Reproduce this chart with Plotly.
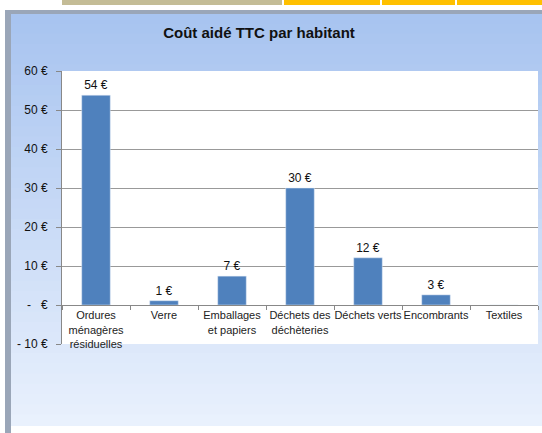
import plotly.graph_objects as go

# données
categories = ["Ordures<br>ménagères<br>résiduelles", "Verre", "Emballages<br>et papiers",
              "Déchets des<br>déchèteries", "Déchets verts", "Encombrants", "Textiles"]
valeurs = [53.8, 1.1, 7.4, 30.0, 12.1, 2.6, 0]
etiquettes = ["54 €", "1 €", "7 €", "30 €", "12 €", "3 €", ""]
y_ticks = [-10, 0, 10, 20, 30, 40, 50, 60]
y_labels = ["- 10 €", "-   €", "10 €", "20 €", "30 €", "40 €", "50 €", "60 €"]

W, H = 542, 433
L, R, T, B = 62, 4, 71, 89
pw, ph = W - L - R, H - T - B


def px(x):
    return (x - L) / pw


def py(y):
    return (H - B - y) / ph


fig = go.Figure()
fig.add_trace(go.Bar(
    x=categories, y=valeurs, text=etiquettes, textposition="outside",
    marker_color="#4F81BD", width=0.42, cliponaxis=False,
    textfont=dict(size=12, color="#111"),
))

shapes = []
# fond dégradé du cadre
top_c = (168, 196, 240)
bot_c = (233, 241, 253)
n = 40
y0, y1 = 13, 425
for i in range(n):
    t = i / (n - 1)
    c = tuple(int(top_c[k] + (bot_c[k] - top_c[k]) * t) for k in range(3))
    ya = y0 + (y1 - y0) * i / n
    yb = y0 + (y1 - y0) * (i + 1) / n + 1
    shapes.append(dict(type="rect", xref="paper", yref="paper", layer="below",
                       x0=px(10), x1=px(542), y0=py(ya), y1=py(yb),
                       fillcolor="rgb(%d,%d,%d)" % c, line_width=0))
# bordure grise gauche et haut
shapes.append(dict(type="rect", xref="paper", yref="paper", layer="below",
                   x0=px(5), x1=px(11), y0=py(10), y1=py(433),
                   fillcolor="#9AA6B8", line_width=0))
shapes.append(dict(type="rect", xref="paper", yref="paper", layer="below",
                   x0=px(5), x1=px(542), y0=py(10), y1=py(14),
                   fillcolor="#9AA6B8", line_width=0))
# bandeau du haut
for xa, xb, col in [(62, 282, "#C4BC96"), (284, 380, "#FFC000"),
                    (382, 455, "#FFC000"), (457, 542, "#FFC000")]:
    shapes.append(dict(type="rect", xref="paper", yref="paper", layer="below",
                       x0=px(xa), x1=px(xb), y0=py(0), y1=py(5),
                       fillcolor=col, line_width=0))
# zone de tracé blanche
shapes.append(dict(type="rect", xref="paper", yref="paper", layer="below",
                   x0=0, x1=1, y0=0, y1=1, fillcolor="white", line_width=0))

fig.update_layout(
    width=W, height=H,
    margin=dict(l=L, r=R, t=T, b=B, autoexpand=False),
    paper_bgcolor="white", plot_bgcolor="white",
    font=dict(family="Liberation Sans, Arial, sans-serif", color="#111"),
    title=dict(text="<b>Coût aidé TTC par habitant</b>", x=259 / W, xref="container",
               xanchor="center", y=1 - 33 / H, yanchor="middle",
               font=dict(size=15, color="#111")),
    showlegend=False,
    bargap=0.5,
    shapes=shapes,
    xaxis=dict(anchor="free", position=10 / 70, showline=True, linecolor="#888",
               linewidth=1, ticks="outside", tickson="boundaries", ticklen=4,
               tickcolor="#888", tickfont=dict(size=11, color="#222"),
               tickangle=0, automargin=False,
               showgrid=False, range=[-0.5, 6.5]),
    yaxis=dict(range=[-10, 60], tickvals=y_ticks, ticktext=y_labels,
               showgrid=True, gridcolor="#999", gridwidth=1,
               zeroline=True, zerolinecolor="#888", zerolinewidth=1,
               showline=True, linecolor="#888", ticks="outside", ticklen=5,
               ticklabelstandoff=6,
               tickcolor="#888", tickfont=dict(size=12, color="#111"),
               automargin=False),
)

fig.write_html("out.html", config={"displayModeBar": False},
               post_script="document.body.style.margin='0';")
